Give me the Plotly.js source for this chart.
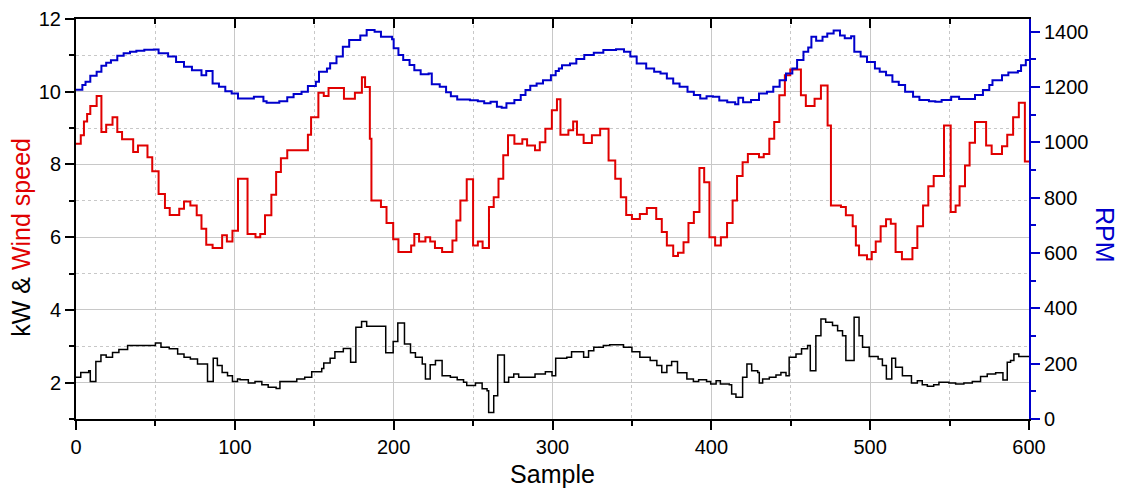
<!DOCTYPE html>
<html>
<head>
<meta charset="utf-8">
<script src="https://cdn.plot.ly/plotly-3.0.1.min.js"></script>
<style>html,body{margin:0;padding:0;background:#fff;}#chart{width:1130px;height:495px;}</style>
</head>
<body>
<div id="chart"></div>
<script>
// RPM (right axis) – step breakpoints
const rpmX = [0,4,6,9,13,16,19,22,26,30,34,38,43,49,52,58,63,68,73,79,82,86,90,94,98,102,112,118,120,128,133,137,142,146,151,153,158,160,164,168,172,179,183,188,192,199,200,203,206,210,213,217,222,224,229,233,236,240,248,253,257,261,265,268,271,276,280,283,286,290,294,299,302,304,306,311,315,320,326,332,340,345,349,353,359,364,368,372,376,380,385,389,393,397,401,405,410,415,417,420,425,430,435,439,443,447,451,454,458,461,463,466,470,473,477,481,484,488,490,494,498,503,506,510,514,518,522,527,531,537,541,545,551,556,562,566,571,575,577,583,587,593,595,598,600];
const rpmY = [1190,1207,1219,1241,1255,1277,1288,1297,1313,1322,1328,1331,1335,1336,1322,1310,1291,1273,1261,1243,1258,1213,1201,1185,1177,1159,1165,1149,1143,1149,1163,1175,1183,1204,1219,1255,1267,1286,1310,1346,1370,1386,1406,1400,1382,1373,1340,1316,1298,1280,1261,1246,1249,1210,1201,1181,1167,1155,1152,1149,1141,1147,1129,1125,1141,1153,1171,1189,1205,1213,1225,1243,1258,1267,1279,1285,1301,1316,1324,1334,1337,1328,1310,1285,1267,1255,1249,1231,1213,1201,1183,1171,1159,1167,1165,1151,1145,1138,1161,1145,1153,1177,1183,1201,1225,1249,1267,1298,1328,1343,1382,1367,1382,1394,1404,1386,1376,1384,1328,1310,1291,1267,1255,1243,1219,1207,1183,1165,1153,1149,1147,1153,1165,1157,1157,1171,1189,1207,1225,1243,1253,1258,1279,1298,1300];

// Wind speed (left axis)
const windX = [0,3,5,7,9,13,16,19,23,26,29,36,39,45,48,52,56,59,65,68,72,76,79,82,86,92,95,98.5,102,108,113,116,119,123,126,129,133,146,148,152.6,156,159,168.7,175.6,180,182,185,186,192,195.5,199.7,203,211,213,216,220,223,226,230.5,237,239.5,242,246,250,253,256,260,263,266,269,272,276,281,284,289,292,295.5,299.6,302.8,305,310,313,315.4,319.6,324.8,330,335.3,339.5,343,346.4,350,355,359.4,365.3,368.8,372,376,379,382.5,385.6,389,392.5,395.5,398.8,402.4,406,409.9,413.4,416.2,419.7,423,430,433,436.5,439.6,442.8,446.3,449.7,456.4,459.5,465,469,473.2,475.3,481.6,484.7,489,491,493,498,501,503.5,506.6,510,513,516,520,526.6,529.7,533.3,536.6,540,546.5,550.7,553.8,556.3,559.7,562.6,566,573,576.5,583,586.3,590,593.6,597.4,600];
const windY = [8.57,8.80,9.18,9.39,9.61,9.88,8.89,9.09,9.30,8.89,8.69,8.34,8.52,8.20,7.81,7.19,6.80,6.61,6.78,6.98,6.87,6.60,6.23,5.79,5.70,6.05,5.88,6.18,7.61,6.09,6.00,6.09,6.60,7.17,7.79,8.17,8.39,8.82,9.30,9.97,9.88,10.10,9.81,9.97,10.40,10.13,8.71,7.01,6.83,6.39,5.94,5.59,5.77,6.09,5.88,6.00,5.88,5.70,5.59,5.91,6.46,7.01,7.59,5.77,5.88,5.70,6.83,7.10,7.61,8.25,8.80,8.57,8.69,8.52,8.39,8.61,8.98,9.49,9.79,8.82,8.94,9.18,8.82,8.59,8.80,8.98,8.11,7.61,7.10,6.61,6.50,6.64,6.80,6.50,6.14,5.77,5.48,5.57,5.86,6.39,6.69,7.90,7.51,6.00,5.77,6.00,6.39,7.01,7.68,8.06,8.29,8.20,8.29,8.71,9.17,9.90,10.45,10.61,9.90,9.61,9.81,10.17,9.07,6.87,6.83,6.60,6.30,5.77,5.50,5.39,5.59,5.88,6.30,6.49,6.37,5.59,5.39,5.70,6.30,6.87,7.40,7.68,9.07,6.69,6.87,7.40,7.97,8.60,9.17,8.52,8.29,8.50,8.82,9.30,9.70,8.08,8.08];

// Power kW (left axis)
const kwX = [0,3,8,9,12.5,15.7,19,23,27,32.5,50,53.5,58.7,64,68,72,76.5,82.8,86.4,89,92,95.4,98.5,101.7,103.3,108.5,112.7,117,121,126,128.4,139,144,148.4,154.7,156,160,163,168.3,172.9,176.2,179.8,183,195,199.7,202.6,206.8,210.6,213.7,218,220,223,226.3,230.5,235.7,240,244,246,251.5,255.7,258.8,259.8,263,265.5,269.7,272.4,275.6,278.7,289,295.5,299.7,302,309,312,319.6,322.7,326,332,336,344.7,350,355,361.5,365.7,368.8,372,375,378.7,384.6,388.7,392,397,399.6,403,405.7,411.3,412.8,415.5,419.7,422.4,425.4,429.2,430.2,432.3,436.5,440.7,443.8,447,449,453.3,456.8,460.6,462.3,465.8,469,472,476.3,479.5,482.6,484.7,489.9,493,495.2,499.4,505,507.7,510.2,513.6,516,520.3,526,529.7,532.8,536,540,543.3,549.6,553.8,559,564.3,569.5,573.7,579,583.6,586.3,588.4,590.5,593.6,600];
const kwY = [2.15,2.28,2.33,2.03,2.58,2.76,2.70,2.83,2.91,3.02,3.09,2.97,2.93,2.79,2.70,2.65,2.51,2.03,2.67,2.47,2.28,2.19,2.03,2.10,2.08,1.99,2.03,1.94,1.87,1.84,2.03,2.10,2.15,2.30,2.39,2.54,2.67,2.85,2.94,2.56,3.52,3.68,3.55,2.82,3.13,3.64,3.06,2.82,2.70,2.51,2.10,2.49,2.61,2.19,2.15,2.08,2.01,1.92,1.99,1.83,1.78,1.18,1.64,2.76,2.01,2.15,2.24,2.15,2.24,2.30,2.19,2.67,2.70,2.85,2.70,2.88,2.97,3.02,3.04,2.97,2.85,2.70,2.61,2.47,2.28,2.47,2.58,2.27,2.10,2.03,2.08,2.03,1.96,2.05,1.96,1.94,1.69,1.60,2.15,2.51,2.33,2.28,1.99,2.10,2.15,2.21,2.28,2.19,2.70,2.79,2.93,3.02,2.33,3.29,3.75,3.66,3.57,3.43,3.29,2.61,3.80,3.29,2.97,2.72,2.65,2.47,2.10,2.67,2.42,2.19,1.99,2.05,1.94,1.90,1.94,2.01,1.99,1.96,1.99,2.03,2.17,2.24,2.27,2.07,2.56,2.61,2.79,2.72,2.72];

const xTickVals = [0,100,200,300,400,500,600];
const yTickVals = [2,4,6,8,10,12];
const rpmTickVals = [0,200,400,600,800,1000,1200,1400];

const FONT = '"Liberation Sans", Arial, sans-serif';
const BLUE = '#0000cc';
const RED = '#e00000';
const GRID = '#c8c8c8';

const traces = [
  {x: kwX, y: kwY, type: 'scatter', mode: 'lines', line: {shape: 'hv', color: '#000000', width: 1.5}, xaxis: 'x', yaxis: 'y', hoverinfo: 'skip'},
  {x: windX, y: windY, type: 'scatter', mode: 'lines', line: {shape: 'hv', color: RED, width: 2}, xaxis: 'x', yaxis: 'y', hoverinfo: 'skip'},
  {x: rpmX, y: rpmY, type: 'scatter', mode: 'lines', line: {shape: 'hv', color: BLUE, width: 2}, xaxis: 'x2', yaxis: 'y2', hoverinfo: 'skip'}
];

const layout = {
  width: 1130, height: 495,
  margin: {l: 76, r: 101, t: 19, b: 76},
  paper_bgcolor: '#fff', plot_bgcolor: '#fff',
  showlegend: false,
  font: {family: FONT, size: 20, color: '#000'},
  xaxis: {
    range: [0, 600], tickvals: xTickVals, ticks: 'outside', ticklen: 9, tickwidth: 2, tickcolor: '#000',
    showline: true, linecolor: '#000', linewidth: 2, zeroline: false,
    showgrid: true, gridcolor: GRID, gridwidth: 1,
    minor: {dtick: 50, tick0: 0, ticks: 'outside', ticklen: 5, tickwidth: 2, tickcolor: '#000', showgrid: true, gridcolor: GRID, griddash: '3px,3px', gridwidth: 1},
    tickfont: {family: FONT, size: 20},
    title: {text: 'Sample', font: {family: FONT, size: 25}, standoff: 8},
    automargin: false
  },
  xaxis2: {
    range: [0, 600], overlaying: 'x', side: 'top', anchor: 'y', tickvals: xTickVals, ticks: 'inside', ticklen: 9, tickwidth: 2, tickcolor: '#000',
    showline: true, linecolor: '#000', linewidth: 2, zeroline: false, showgrid: false, showticklabels: false,
    minor: {dtick: 50, tick0: 0, ticks: 'inside', ticklen: 5, tickwidth: 2, tickcolor: '#000', showgrid: false},
    automargin: false
  },
  yaxis: {
    range: [1, 12], tickvals: yTickVals, ticks: 'outside', ticklen: 9, tickwidth: 2, tickcolor: '#000',
    showline: true, linecolor: '#000', linewidth: 2, zeroline: false,
    showgrid: true, gridcolor: GRID, gridwidth: 1,
    minor: {dtick: 1, tick0: 0, ticks: 'outside', ticklen: 5, tickwidth: 2, tickcolor: '#000', showgrid: true, gridcolor: GRID, griddash: '3px,3px', gridwidth: 1},
    tickfont: {family: FONT, size: 20},
    automargin: false
  },
  yaxis2: {
    range: [0, 1446], overlaying: 'y', side: 'right', anchor: 'x', tickvals: rpmTickVals, ticks: 'outside', ticklen: 9, tickwidth: 2, tickcolor: BLUE,
    showline: true, linecolor: BLUE, linewidth: 2, zeroline: false, showgrid: false,
    minor: {dtick: 100, tick0: 0, ticks: 'outside', ticklen: 5, tickwidth: 2, tickcolor: BLUE, showgrid: false},
    tickfont: {family: FONT, size: 20, color: '#000'},
    automargin: false
  },
  annotations: [
    {text: 'kW & <span style="color:' + RED + '">Wind speed</span>', xref: 'paper', yref: 'paper', x: -0.058, y: 0.455, showarrow: false, textangle: -90,
     font: {family: FONT, size: 25, color: '#000'}, xanchor: 'center', yanchor: 'middle'},
    {text: 'RPM', xref: 'paper', yref: 'paper', x: 1.0797, y: 0.46, showarrow: false, textangle: 90,
     font: {family: FONT, size: 25, color: BLUE}, xanchor: 'center', yanchor: 'middle'}
  ]
};

Plotly.newPlot('chart', traces, layout, {staticPlot: true, displayModeBar: false});
</script>
</body>
</html>
